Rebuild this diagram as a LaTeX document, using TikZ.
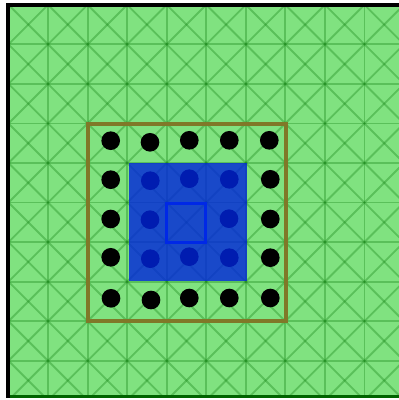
\documentclass[tikz,border=0pt]{standalone}
\definecolor{fieldgreen}{RGB}{128,226,128}
\definecolor{gridgreen}{RGB}{20,130,20}
\definecolor{edgegreen}{RGB}{0,100,0}
\definecolor{olivebox}{RGB}{128,120,40}
\definecolor{bluezone}{RGB}{0,35,220}
\definecolor{bluecell}{RGB}{0,40,230}
\begin{document}
\begin{tikzpicture}[x=0.75pt,y=-0.75pt,
  gridline/.style={draw=gridgreen, draw opacity=0.35, line width=1.4pt},
  dot/.style={circle, fill=black, inner sep=0pt, minimum size=14pt}]
\useasboundingbox (0,0) rectangle (399,400);
\fill[white] (0,0) rectangle (399,400);
\fill[fieldgreen] (8,5) rectangle (399,397);
\begin{scope}
  \clip (8,5) rectangle (399,397);
  \foreach \k in {1,...,10} {
    \draw[gridline] ({8.5+39.55*\k},0) -- ({8.5+39.55*\k},400);
    \draw[gridline] (0,{4.8+39.55*\k}) -- (400,{4.8+39.55*\k});
  }
  \foreach \m in {-10,...,10}
    \draw[gridline] ({8.5+39.55*\m},4.8) -- ({8.5+39.55*(\m+10)},400.3);
  \foreach \m in {0,...,20}
    \draw[gridline] ({8.5+39.55*\m},4.8) -- ({8.5+39.55*(\m-10)},400.3);
\end{scope}
\draw[edgegreen, line width=2.25pt] (8,396.3) -- (399,396.3);
\draw[black, line width=3pt] (8,397.5) -- (8,5) -- (399,5);
% dots
\node[dot] (d11) at (110.7,140.7) {};
\node[dot] (d12) at (150.0,142.3) {};
\node[dot] (d13) at (189.3,140.3) {};
\node[dot] (d14) at (229.3,140.3) {};
\node[dot] (d15) at (269.3,140.3) {};
\node[dot] (d21) at (110.7,179.7) {};
\node[dot] (d22) at (150.3,180.7) {};
\node[dot] (d23) at (189.3,178.7) {};
\node[dot] (d24) at (229.3,179.3) {};
\node[dot] (d25) at (270.3,179.3) {};
\node[dot] (d31) at (110.7,219.0) {};
\node[dot] (d32) at (150.0,219.7) {};
\node[dot] (d34) at (229.0,218.7) {};
\node[dot] (d35) at (270.3,219.0) {};
\node[dot] (d41) at (110.7,257.3) {};
\node[dot] (d42) at (150.3,258.7) {};
\node[dot] (d43) at (189.3,256.7) {};
\node[dot] (d44) at (229.3,257.7) {};
\node[dot] (d45) at (270.3,257.7) {};
\node[dot] (d51) at (111.0,298.3) {};
\node[dot] (d52) at (151.0,300.0) {};
\node[dot] (d53) at (189.3,298.0) {};
\node[dot] (d54) at (229.3,298.0) {};
\node[dot] (d55) at (270.3,298.0) {};
% boxes
\draw[olivebox, line width=3pt] (88,123.5) rectangle (285.7,321);
\fill[bluezone, fill opacity=0.8] (128.7,162.7) rectangle (246.7,281);
\draw[bluecell, line width=2.25pt] (166.5,203.5) rectangle (205.3,242);
\end{tikzpicture}
\end{document}
